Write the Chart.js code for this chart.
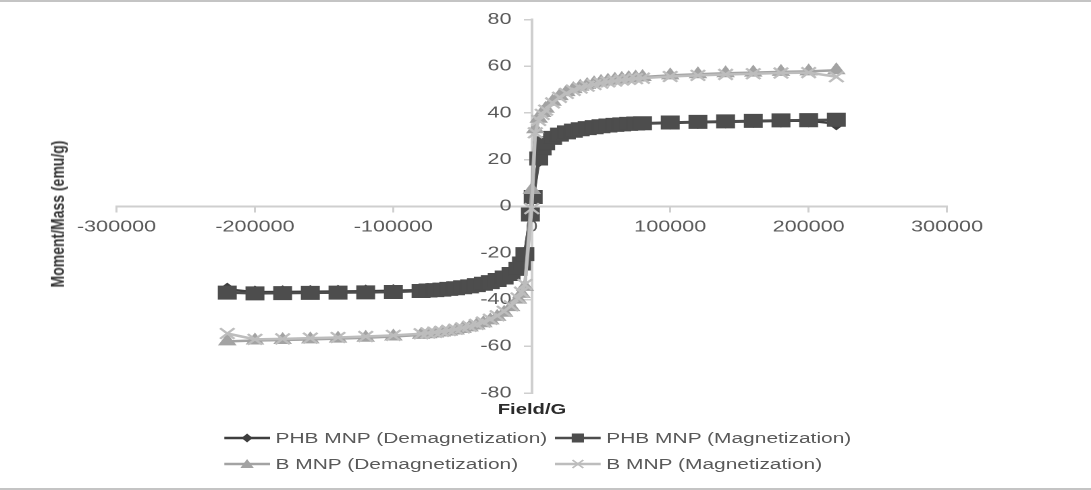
<!DOCTYPE html>
<html>
<head>
<meta charset="utf-8">
<script src="https://cdn.jsdelivr.net/npm/chart.js@4.4.1/dist/chart.umd.min.js"></script>
<style>
  html, body { margin: 0; padding: 0; background: #ffffff; overflow: hidden; }
  #frame { position: absolute; left: 0; top: 0; width: 1091px; height: 490px; box-sizing: border-box;
           border-top: 2px solid #c4c4c4; border-bottom: 2px solid #c4c4c4; }
  #stage { position: absolute; left: 0; top: 0; width: 808px; height: 490px;
           transform: scaleX(1.35025); transform-origin: 0 0;
           font-family: "Liberation Sans", Arial, sans-serif; }
  #chartBox { position: absolute; left: 0; top: 0; width: 808px; height: 490px; }
  .ytitle { position: absolute; left: 42px; top: 214px; transform: translate(-50%, -50%) rotate(-90deg);
            font-weight: bold; font-size: 14px; color: #333333; white-space: nowrap; }
  .xtitle { position: absolute; left: 394px; top: 408px; transform: translate(-50%, -50%);
            font-weight: bold; font-size: 15px; color: #2b2b2b; white-space: nowrap; }
  .leg { position: absolute; height: 18px; display: flex; align-items: center; white-space: nowrap;
         font-size: 15.5px; color: #595959; transform: translateY(-50%); }
  .leg svg { margin-right: 4px; }
</style>
</head>
<body>
<div id="frame"></div>
<div id="stage">
  <div id="chartBox"><canvas id="c"></canvas></div>
  <div class="ytitle">Moment/Mass (emu/g)</div>
  <div class="xtitle">Field/G</div>
  <div id="legend"></div>
</div>
<script>
const seriesNames = [
  "PHB MNP (Demagnetization)",
  "PHB MNP (Magnetization)",
  "B MNP (Demagnetization)",
  "B MNP (Magnetization)"
];

const field = [
  -220000, -200000, -180000, -160000, -140000, -120000, -100000,
  -80000, -75000, -70000, -65000, -60000, -55000, -50000, -45000, -40000,
  -35000, -30000, -25000, -20000, -15000, -10000,
  -7500, -5000, -2500, -1000, 0, 1000, 2500, 5000, 7500,
  10000, 15000, 20000, 25000, 30000, 35000, 40000, 45000, 50000,
  55000, 60000, 65000, 70000, 75000, 80000,
  100000, 120000, 140000, 160000, 180000, 200000, 220000
];

const phbDemag = [
  -35.6, -36.8, -36.7, -36.6, -36.5, -36.4, -36.2,
  -35.9, -35.7, -35.5, -35.3, -35.0, -34.7, -34.3, -33.9, -33.4,
  -32.8, -32.0, -31.1, -30.0, -28.5, -26.3,
  -24.0, -20.0, null, -4.5, null, 3.5, null, 19.5, 24.0,
  26.5, 28.8, 30.3, 31.4, 32.2, 32.8, 33.3, 33.7, 34.1,
  34.4, 34.7, 34.9, 35.1, 35.3, 35.4,
  35.7, 36.0, 36.2, 36.4, 36.6, 36.7, 35.4
];

const phbMag = [
  -37.0, -37.3, -37.2, -37.1, -37.0, -36.9, -36.7,
  -36.3, -36.1, -35.9, -35.7, -35.4, -35.1, -34.7, -34.3, -33.8,
  -33.2, -32.5, -31.6, -30.5, -29.0, -26.8,
  -24.5, -20.5, null, -3.5, null, 4.0, null, 20.5, 24.8,
  27.0, 29.3, 30.7, 31.7, 32.4, 33.0, 33.5, 33.9, 34.3,
  34.6, 34.9, 35.1, 35.3, 35.5, 35.6,
  35.9, 36.2, 36.4, 36.6, 36.8, 36.9, 37.1
];

const bDemag = [
  -57.9, -57.5, -57.3, -57.0, -56.7, -56.3, -55.8,
  -55.1, -54.8, -54.5, -54.1, -53.7, -53.2, -52.6, -51.9, -51.1,
  -50.1, -48.9, -47.4, -45.6, -43.2, -40.0,
  -37.5, -34.5, null, null, 7.0, null, 33.0, 37.5, 40.0,
  41.8, 44.8, 47.2, 48.9, 50.2, 51.2, 52.0, 52.7, 53.3,
  53.8, 54.2, 54.6, 54.9, 55.2, 55.4,
  56.1, 56.6, 57.0, 57.3, 57.6, 57.8, 58.3
];

const bMag = [
  -54.5, -57.0, -56.8, -56.5, -56.2, -55.8, -55.3,
  -54.6, -54.3, -54.0, -53.6, -53.2, -52.7, -52.1, -51.4, -50.6,
  -49.6, -48.4, -46.9, -45.0, -42.6, -39.3,
  -36.8, -33.5, null, null, -1.0, null, 31.5, 36.8, 39.4,
  41.2, 44.3, 46.7, 48.4, 49.7, 50.7, 51.5, 52.2, 52.8,
  53.3, 53.7, 54.1, 54.4, 54.7, 54.9,
  55.6, 56.1, 56.5, 56.8, 57.1, 57.3, 55.5
];

const xTicks = [-300000, -200000, -100000, 0, 100000, 200000, 300000];
const yTicks = [-80, -60, -40, -20, 0, 20, 40, 60, 80];

// ---- Styles ----
const styles = [
  { color: '#3e3e3e', point: 'rectRot',  radius: 6,   line: 2.5 },
  { color: '#4d4d4d', point: 'rect',     radius: 9.2, line: 2.5 },
  { color: '#a3a3a3', point: 'triangle', radius: 7,   line: 2.5 },
  { color: '#bdbdbd', point: 'crossRot', radius: 7.5, line: 2.5 }
];
const values = [phbDemag, phbMag, bDemag, bMag];

const datasets = values.map((arr, i) => ({
  label: seriesNames[i],
  data: field.map((f, k) => ({ x: f, y: arr[k] })),
  spanGaps: true,
  borderColor: styles[i].color,
  backgroundColor: styles[i].color,
  borderWidth: styles[i].line,
  pointStyle: styles[i].point,
  pointRadius: styles[i].radius,
  pointBackgroundColor: styles[i].color,
  pointBorderColor: styles[i].color,
  pointBorderWidth: styles[i].point === 'crossRot' ? 2 : 1,
  tension: 0,
  order: 4 - i
}));

const axisColor = '#cfcfcf';
const tickFont = { family: '"Liberation Sans", Arial, sans-serif', size: 16 };

// A y axis placed at x = 0 gets no tick padding from Chart.js; shift its labels left.
const yLabelGap = {
  id: 'yLabelGap',
  afterLayout(chart) {
    const s = chart.scales.y;
    if (s && !s._gapPatched) {
      const orig = s._computeLabelItems;
      s._computeLabelItems = function (ca) {
        const items = orig.call(this, ca);
        const gap = this.options.grid.tickLength + this.options.ticks.padding;
        items.forEach(it => { it.options.translation[0] -= gap; });
        return items;
      };
      s._gapPatched = true;
      s._labelItems = null;
    }
  }
};

new Chart(document.getElementById('c'), {
  type: 'line',
  data: { datasets },
  plugins: [yLabelGap],
  options: {
    responsive: true,
    maintainAspectRatio: false,
    animation: false,
    events: [],
    devicePixelRatio: 2,
    layout: { padding: { left: 86.3, right: 106.6, top: 16, bottom: 97 } },
    plugins: { legend: { display: false }, tooltip: { enabled: false }, title: { display: false } },
    scales: {
      x: {
        type: 'linear',
        position: { y: 0 },
        z: 1,
        min: xTicks[0], max: xTicks[xTicks.length - 1],
        afterBuildTicks: s => { s.ticks = xTicks.map(v => ({ value: v })); },
        border: { color: axisColor, width: 2 },
        grid: { drawOnChartArea: false, drawTicks: true, tickLength: 5, color: axisColor, lineWidth: 1.5 },
        ticks: { autoSkip: false, maxRotation: 0, padding: 6, color: '#595959', font: tickFont,
                 callback: v => String(v) }
      },
      y: {
        type: 'linear',
        position: { x: 0 },
        min: yTicks[0], max: yTicks[yTicks.length - 1],
        afterBuildTicks: s => { s.ticks = yTicks.map(v => ({ value: v })); },
        border: { color: axisColor, width: 2 },
        grid: { drawOnChartArea: false, drawTicks: true, tickLength: 5, color: axisColor, lineWidth: 1.5 },
        ticks: { autoSkip: false, padding: 10, color: '#595959', font: tickFont,
                 callback: v => String(v) }
      }
    }
  }
});

// ---- Legend (HTML) ----
const legendPos = [
  { left: 166, top: 438 }, { left: 411, top: 438 },
  { left: 166, top: 464 }, { left: 411, top: 464 }
];
function markerSvg(st) {
  const c = st.color, cx = 17, cy = 7;
  let m = '';
  if (st.point === 'rect') m = `<rect x="${cx-4.5}" y="${cy-4.5}" width="9" height="9" fill="${c}"/>`;
  else if (st.point === 'rectRot') m = `<polygon points="${cx},${cy-4.5} ${cx+4},${cy} ${cx},${cy+4.5} ${cx-4},${cy}" fill="${c}"/>`;
  else if (st.point === 'triangle') m = `<polygon points="${cx},${cy-5} ${cx+5},${cy+4} ${cx-5},${cy+4}" fill="${c}"/>`;
  else m = `<path d="M${cx-4},${cy-4} L${cx+4},${cy+4} M${cx+4},${cy-4} L${cx-4},${cy+4}" stroke="${c}" stroke-width="1.5"/>`;
  return `<svg width="34" height="14" viewBox="0 0 34 14"><line x1="0" y1="7" x2="34" y2="7" stroke="${c}" stroke-width="2.5"/>${m}</svg>`;
}
const legend = document.getElementById('legend');
seriesNames.forEach((name, i) => {
  const d = document.createElement('div');
  d.className = 'leg';
  d.style.left = legendPos[i].left + 'px';
  d.style.top = legendPos[i].top + 'px';
  d.innerHTML = markerSvg(styles[i]) + '<span>' + name + '</span>';
  legend.appendChild(d);
});
</script>
</body>
</html>
